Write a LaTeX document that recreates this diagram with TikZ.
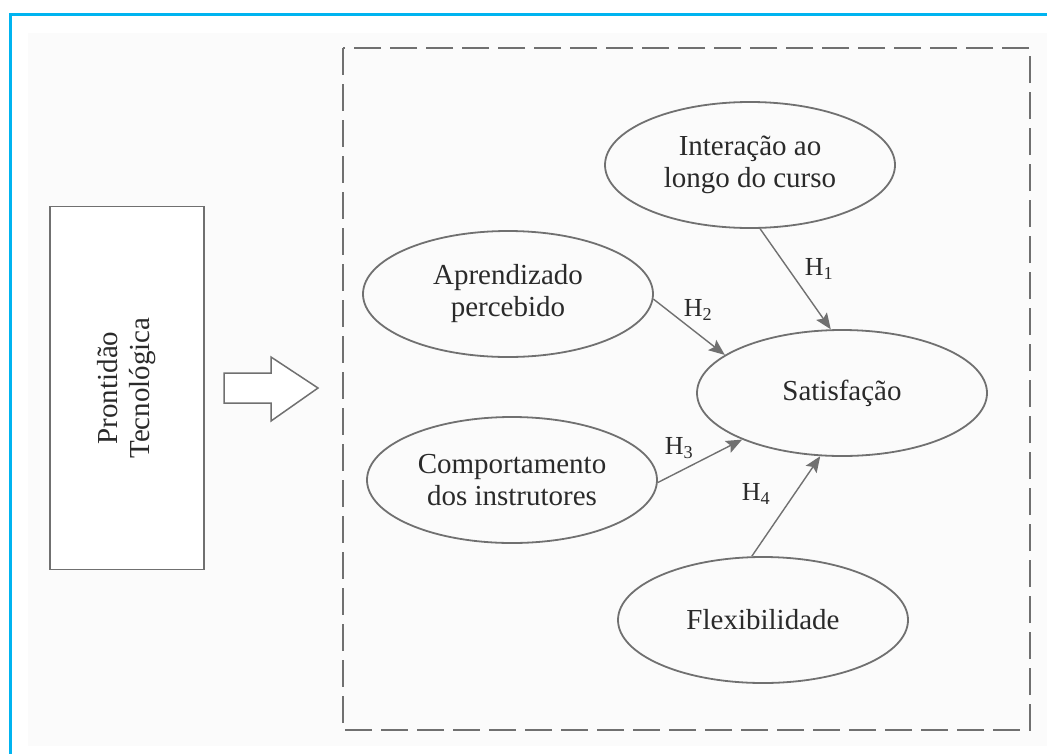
\documentclass[tikz,border=0pt]{standalone}
\usepackage{fontspec}
\setmainfont{Liberation Serif}
\usetikzlibrary{positioning,arrows.meta,shapes.geometric}
\definecolor{cianoBorda}{HTML}{00B4F0}
\definecolor{cinzaTraco}{HTML}{707070}
\definecolor{cinzaTexto}{HTML}{2A2A2A}
\definecolor{cinzaFundo}{HTML}{FBFBFB}

\begin{document}
\begin{tikzpicture}[x=1pt, y=-1pt,
      elip/.style={ellipse, draw=cinzaTraco, line width=1.8pt, minimum width=290pt,
                   minimum height=126pt, inner sep=0pt, align=center, text=cinzaTexto,
                   font=\fontsize{29}{32}\selectfont},
      hip/.style={-{Stealth[length=16pt,width=13pt,inset=3pt]}, draw=cinzaTraco, line width=1.4pt},
      rot/.style={text=cinzaTexto, font=\fontsize{26}{28}\selectfont}]
    \useasboundingbox (0,0) rectangle (1047,753);
    % moldura
    \fill[cinzaFundo] (28,33) rectangle (1060,746);
    \draw[cianoBorda, line width=3.4pt] (10.7,14.3) rectangle (1070,780);
    \draw[cinzaTraco, line width=2.8pt, dash pattern=on 27pt off 9pt] (343,48) rectangle (1030,730);
    % prontidao
    \node[draw=cinzaTraco, line width=1.8pt, fill=white, rotate=90, minimum width=363pt, minimum height=154pt,
          align=center, text=cinzaTexto, font=\fontsize{29}{32}\selectfont] (pront) at (127,388) {Prontid\~ao\\ Tecnol\'ogica};
    \draw[cinzaTraco, line width=1.5pt, fill=white] (224,373) -- (271,373) -- (271,357) -- (318,388)
          -- (271,421) -- (271,403) -- (224,403) -- cycle;
    % construtos
    \node[elip] (inter) at (750,165) {Intera\c{c}\~ao ao\\ longo do curso};
    \node[elip] (aprend) at (508,294) {Aprendizado\\ percebido};
    \node[elip] (comport) at (512,480) {Comportamento\\ dos instrutores};
    \node[elip] (satisf) at (842,393) {Satisfa\c{c}\~ao};
    \node[elip] (flex) at (763,620) {Flexibilidade};
    % hipoteses
    \draw[hip] (inter.-81) -- (satisf.100);
    \draw[hip] (aprend.-2) -- (satisf.162);
    \draw[hip] (comport.-1) -- (satisf.205);
    \draw[hip] (flex.100) -- (satisf.-109);
    \node[rot] (h1) at (819,269) {H\textsubscript{1}};
    \node[rot] (h2) at (698,310) {H\textsubscript{2}};
    \node[rot] (h3) at (679,448) {H\textsubscript{3}};
    \node[rot] (h4) at (756,494) {H\textsubscript{4}};
  \end{tikzpicture}
\end{document}
